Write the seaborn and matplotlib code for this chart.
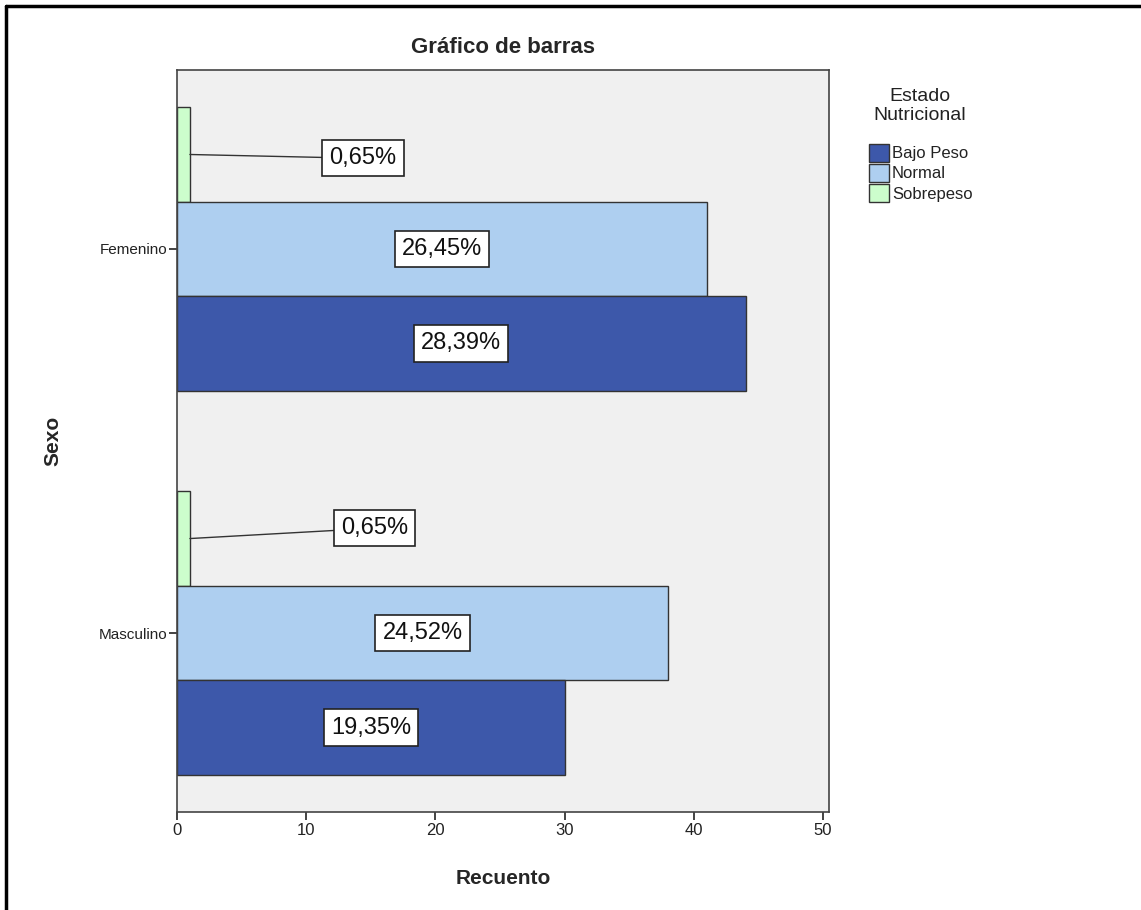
import seaborn as sns
import pandas as pd
import numpy as np
import matplotlib.pyplot as plt
from matplotlib.patches import Patch
from matplotlib.lines import Line2D

# data (counts, n = 155)
sexo = ['Femenino', 'Masculino']
estados = ['Bajo Peso', 'Normal', 'Sobrepeso']
bajo_peso = [44, 30]
normal = [41, 38]
sobrepeso = [1, 1]
total = 155

colores = {'Bajo Peso': '#3d58aa', 'Normal': '#aecff0', 'Sobrepeso': '#ccfdcc'}

rows = []
for i, s in enumerate(sexo):
    rows.append([s, 'Bajo Peso', bajo_peso[i]])
    rows.append([s, 'Normal', normal[i]])
    rows.append([s, 'Sobrepeso', sobrepeso[i]])
df = pd.DataFrame(rows, columns=['Sexo', 'Estado', 'Recuento'])

sns.set_style('ticks')
plt.rcParams['font.family'] = ['Liberation Sans', 'DejaVu Sans']

fig = plt.figure(figsize=(11.41, 9.10), dpi=100)
ax = fig.add_axes([177 / 1141, 1 - 812 / 910, 652 / 1141, 742 / 910])
ax.set_facecolor('#f0f0f0')

hue_order = ['Sobrepeso', 'Normal', 'Bajo Peso']
sns.barplot(data=df, y='Sexo', x='Recuento', hue='Estado', hue_order=hue_order,
            order=sexo, palette=colores, orient='h', width=0.738, saturation=1,
            edgecolor='#333333', linewidth=1, legend=False, ax=ax)

ax.set_xlim(0, 50.46)
ax.set_ylim(1.466, -0.466)
ax.set_xticks([0, 10, 20, 30, 40, 50])

# percentage labels
bar_h = 0.738 / 3
box = dict(boxstyle='square,pad=0.3', fc='white', ec='#222222', lw=1.2)
for i, s in enumerate(sexo):
    for j, est in enumerate(hue_order):
        val = df[(df.Sexo == s) & (df.Estado == est)]['Recuento'].iloc[0]
        yc = i + (j - 1) * bar_h
        txt = f'{val / total * 100:.2f}%'.replace('.', ',')
        if est == 'Sobrepeso':
            lx = [14.4, 15.3][i]
            ly = yc + [0.01, -0.027][i]
            ax.annotate(txt, xy=(val, yc), xytext=(lx, ly), ha='center', va='center',
                        fontsize=17, color='#111111', bbox=box,
                        arrowprops=dict(arrowstyle='-', color='#333333', lw=1,
                                        shrinkA=0, shrinkB=0))
        else:
            ax.text(val / 2, yc, txt, ha='center', va='center', fontsize=17,
                    color='#111111', bbox=box)

for sp in ax.spines.values():
    sp.set_color('#444444')
    sp.set_linewidth(1.2)

ax.tick_params(axis='both', which='both', direction='out', length=6, width=1.2,
               color='#222222', labelcolor='#222222')
ax.tick_params(axis='x', labelsize=12, pad=2)
ax.tick_params(axis='y', labelsize=11, pad=1)

ax.set_title('Gráfico de barras', fontsize=16, fontweight='bold', pad=12)
ax.set_xlabel('Recuento', fontsize=15, fontweight='bold', labelpad=22)
ax.set_ylabel('Sexo', fontsize=15, fontweight='bold', labelpad=26)

# legend: title drawn separately, entries below it
fig.text(920 / 1141, 1 - 106 / 910, 'Estado\nNutricional', ha='center', va='center',
         fontsize=14, color='#222222', linespacing=1.15)
handles = [Patch(facecolor=colores[e], edgecolor='#333333', label=e) for e in estados]
leg = fig.legend(handles=handles, loc='upper left',
                 bbox_to_anchor=(862 / 1141, 1 - 137 / 910), frameon=False,
                 fontsize=12, handlelength=1.2, handleheight=1.3,
                 handletextpad=0.2, labelspacing=0.12, borderaxespad=0)
for t in leg.get_texts():
    t.set_color('#222222')

# outer frame (left and top only)
fig.add_artist(Line2D([6 / 1141, 6 / 1141], [0, 1 - 6 / 910], color='black', lw=2.5))
fig.add_artist(Line2D([6 / 1141, 1], [1 - 6 / 910, 1 - 6 / 910], color='black', lw=2.5))

fig.savefig('out.png', dpi=100, facecolor='white')
